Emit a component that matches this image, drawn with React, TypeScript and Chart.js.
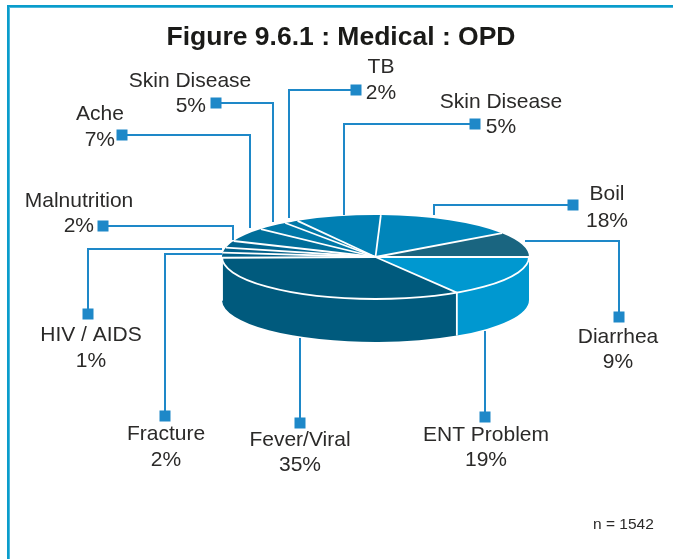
import React, { useEffect, useRef } from "react";
import { Chart, registerables } from "chart.js";

Chart.register(...registerables);

const categories = ["Boil", "Diarrhea", "ENT Problem", "Fever/Viral", "Fracture", "HIV / AIDS", "Malnutrition", "Ache", "Skin Disease", "TB", "Skin Disease"];
const percentLabels = [18, 9, 19, 35, 2, 1, 2, 7, 5, 2, 5];
// Sweep of each slice as drawn in the picture (degrees); the picture's wedges differ from its printed percentages.
const drawnSweep = [53.5, 34.5, 58, 121, 7, 7, 9.4, 19.3, 12.3, 5.5, 32.5];
const sliceColors = ["#0085BA", "#1A6580", "#0098D0", "#005A7D", "#00608A", "#00608A", "#00648F", "#006E9A", "#0078A8", "#0078A8", "#007FB3"];
const chartTitle = "Figure 9.6.1 : Medical : OPD";
const sampleNote = "n = 1542";

const FONT = '"Liberation Sans", Arial, sans-serif';
const INK = "#2b2a29";
const LEAD = "#1E88C8";
const DEPTH = 43;
const SQUASH = 42 / 153.5;

const callouts = [
  { tx: 607, ty1: 194, ty2: 221, path: [[434, 215], [434, 205], [573, 205]] },
  { tx: 618, ty1: 337, ty2: 362, path: [[525, 241], [619, 241], [619, 317]] },
  { tx: 486, ty1: 435, ty2: 460, path: [[485, 331], [485, 417]] },
  { tx: 300, ty1: 440, ty2: 465, path: [[300, 338], [300, 423]] },
  { tx: 166, ty1: 434, ty2: 460, path: [[222, 254], [165, 254], [165, 416]] },
  { tx: 91, ty1: 335, ty2: 361, path: [[222, 249], [88, 249], [88, 314]] },
  { tx: 79, ty1: 201, ty2: 226, path: [[233, 240], [233, 226], [103, 226]], pctRight: 94 },
  { tx: 100, ty1: 114, ty2: 140, path: [[250, 228], [250, 135], [122, 135]], pctRight: 115 },
  { tx: 190, ty1: 81, ty2: 106, path: [[273, 222], [273, 103], [216, 103]], pctRight: 206 },
  { tx: 381, ty1: 67, ty2: 93, path: [[289, 218], [289, 90], [356, 90]] },
  { tx: 501, ty1: 102, ty2: 127, path: [[344, 215], [344, 124], [475, 124]] },
];

const pie3d = {
  id: "pie3d",
  beforeDatasetsDraw(chart: any) {
    const { ctx } = chart;
    const arcs = chart.getDatasetMeta(0).data;
    const { x: cx, y: cy, outerRadius: r } = arcs[0];
    const ry = r * SQUASH;
    ctx.save();
    arcs.forEach((arc: any, i: number) => {
      const a0 = Math.max(arc.startAngle, 0);
      const a1 = Math.min(arc.endAngle, Math.PI);
      if (a1 <= a0) return;
      ctx.beginPath();
      ctx.ellipse(cx, cy, r, ry, 0, a0, a1);
      ctx.ellipse(cx, cy + DEPTH, r, ry, 0, a1, a0, true);
      ctx.closePath();
      ctx.fillStyle = sliceColors[i];
      ctx.fill();
    });
    ctx.restore();
    ctx.save();
    ctx.translate(cx, cy);
    ctx.scale(1, SQUASH);
    ctx.translate(-cx, -cy);
  },
  afterDatasetsDraw(chart: any) {
    const { ctx } = chart;
    ctx.restore();
    const arcs = chart.getDatasetMeta(0).data;
    const { x: cx, y: cy, outerRadius: r } = arcs[0];
    const ry = r * SQUASH;
    ctx.save();
    ctx.strokeStyle = "#ffffff";
    ctx.lineWidth = 1.8;
    arcs.forEach((arc: any) => {
      const px = cx + r * Math.cos(arc.startAngle);
      const py = cy + ry * Math.sin(arc.startAngle);
      ctx.beginPath();
      ctx.moveTo(cx, cy);
      ctx.lineTo(px, py);
      if (Math.sin(arc.startAngle) > 0.01) ctx.lineTo(px, py + DEPTH);
      ctx.stroke();
    });
    ctx.beginPath();
    ctx.ellipse(cx, cy, r, ry, 0, 0, Math.PI);
    ctx.stroke();
    ctx.restore();
  },
};

const frameAndCallouts = {
  id: "frameAndCallouts",
  afterDraw(chart: any) {
    const { ctx } = chart;
    ctx.save();
    ctx.fillStyle = "#4DB8DC";
    ctx.fillRect(7, 5, 666, 3);
    ctx.fillRect(7, 5, 3, 554);
    ctx.fillStyle = "#0A9CCB";
    ctx.fillRect(7, 5, 666, 2);
    ctx.fillRect(7, 5, 2, 554);

    ctx.fillStyle = "#1a1a18";
    ctx.font = `bold 26.5px ${FONT}`;
    ctx.textAlign = "center";
    ctx.textBaseline = "middle";
    ctx.fillText(chartTitle, 341, 38);

    ctx.strokeStyle = LEAD;
    ctx.lineWidth = 2;
    ctx.font = `21px ${FONT}`;
    callouts.forEach((c, i) => {
      ctx.beginPath();
      c.path.forEach(([x, y], k) => (k ? ctx.lineTo(x, y) : ctx.moveTo(x, y)));
      ctx.stroke();
      const [ex, ey] = c.path[c.path.length - 1];
      ctx.fillStyle = LEAD;
      ctx.fillRect(ex - 5.5, ey - 5.5, 11, 11);
      ctx.fillStyle = INK;
      ctx.textAlign = "center";
      ctx.fillText(categories[i], c.tx, c.ty1);
      const pct = `${percentLabels[i]}%`;
      if (c.pctRight) {
        ctx.textAlign = "right";
        ctx.fillText(pct, c.pctRight, c.ty2);
      } else {
        ctx.fillText(pct, c.tx, c.ty2);
      }
    });
    ctx.textAlign = "left";
    ctx.font = `15.5px ${FONT}`;
    ctx.fillText(sampleNote, 593, 525);
    ctx.restore();
  },
};

export default function App() {
  const ref = useRef<HTMLCanvasElement>(null);
  useEffect(() => {
    document.body.style.margin = "0";
    const chart = new Chart(ref.current!, {
      type: "pie",
      data: {
        labels: categories,
        datasets: [{ data: drawnSweep, backgroundColor: sliceColors, borderWidth: 0, clip: false } as any],
      },
      options: {
        responsive: false,
        animation: false,
        rotation: 2,
        layout: { padding: { left: 222, right: 144, top: 103.5, bottom: 148.5 } },
        plugins: { legend: { display: false }, tooltip: { enabled: false } },
      },
      plugins: [pie3d, frameAndCallouts],
    });
    return () => chart.destroy();
  }, []);
  return <canvas ref={ref} width={673} height={559} style={{ display: "block" }} />;
}
